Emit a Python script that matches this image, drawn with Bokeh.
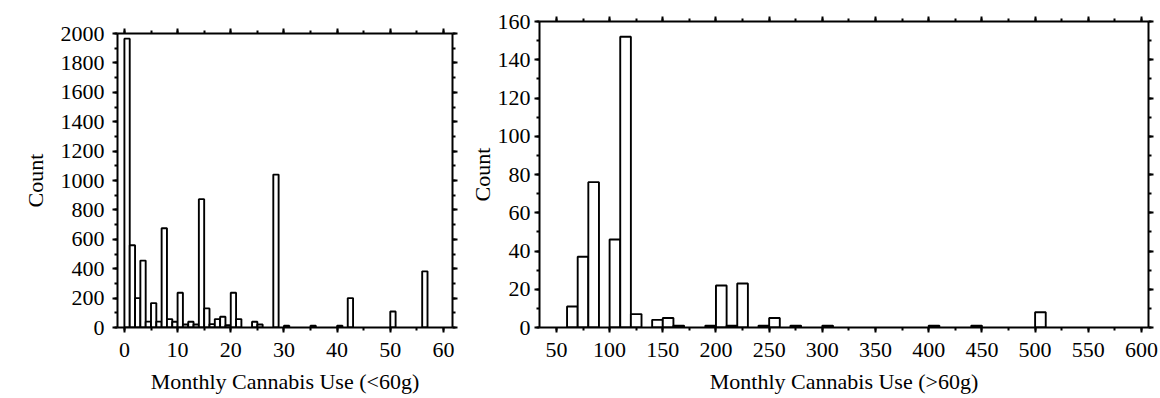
from jinja2 import Template
from bokeh.plotting import figure
from bokeh.models import Range1d, LinearAxis, SingleIntervalTicker, CustomJSTickFormatter
from bokeh.embed import file_html
from bokeh.resources import INLINE

# ---- data ----
left_bin_start = [0, 1, 2, 3, 4, 5, 6, 7, 8, 9, 10, 11, 12, 13, 14, 15, 16, 17, 18, 19,
                  20, 21, 24, 25, 28, 30, 35, 40, 42, 50, 56]
left_counts = [1965, 560, 200, 455, 40, 166, 40, 675, 57, 39, 236, 20, 39, 20, 873, 130, 23, 57, 73, 15,
               236, 57, 39, 20, 1040, 12, 12, 12, 200, 109, 382]
left_bin_width = 1

right_bin_start = [60, 70, 80, 100, 110, 120, 140, 150, 160, 190, 200, 210, 220, 240, 250, 270,
                   300, 400, 440, 500]
right_counts = [11, 37, 76, 46, 152, 7, 4, 5, 1, 1, 22, 1, 23, 1, 5, 1, 1, 1, 1, 8]
right_bin_width = 10

left_xlabel = "Monthly Cannabis Use (<60g)"
right_xlabel = "Monthly Cannabis Use (>60g)"
ylabel = "Count"

FONT = "Liberation Serif"
FS = "22px"


def style_axis(ax, major, minor_n, labels=True, standoff=8):
    ax.ticker = SingleIntervalTicker(interval=major, num_minor_ticks=minor_n)
    ax.axis_line_width = 2
    ax.axis_line_color = "black"
    ax.major_tick_line_width = 2
    ax.minor_tick_line_width = 2
    ax.major_tick_in = 0
    ax.major_tick_out = 5
    ax.minor_tick_in = 0
    ax.minor_tick_out = 3
    ax.major_label_text_font = FONT
    ax.major_label_text_color = "black"
    ax.axis_label_text_font = FONT
    ax.axis_label_text_font_style = "normal"
    ax.axis_label_text_font_size = FS
    ax.axis_label_text_color = "black"
    if labels:
        ax.major_label_text_font_size = FS
        ax.major_label_standoff = standoff
    else:
        ax.formatter = CustomJSTickFormatter(code="return ''")
        ax.major_label_text_font_size = "1px"
        ax.major_label_standoff = 0


def make(width, height, frame_l, frame_r, frame_t, frame_b, xr, yr, xmaj, ymaj,
         starts, counts, bw, xlabel, ystand, ylab_stand):
    p = figure(width=width, height=height, output_backend="svg", toolbar_location=None,
               x_range=Range1d(*xr), y_range=Range1d(*yr),
               min_border_left=frame_l, min_border_right=width - frame_r,
               min_border_top=frame_t, min_border_bottom=height - frame_b,
               x_axis_location="below", y_axis_location="left",
               title_location=None)
    p.grid.visible = False
    p.outline_line_color = None
    p.background_fill_color = "white"
    p.border_fill_color = "white"
    rights = [s + bw for s in starts]
    p.quad(left=starts, right=rights, bottom=0, top=counts,
           fill_color="white", line_color="black", line_width=1.9)
    style_axis(p.xaxis[0], xmaj, 2, standoff=10)
    style_axis(p.yaxis[0], ymaj, 2, standoff=ystand)
    p.xaxis[0].axis_label = xlabel
    p.yaxis[0].axis_label = ylabel
    p.xaxis[0].axis_label_standoff = 9
    p.yaxis[0].axis_label_standoff = ylab_stand
    top = LinearAxis()
    style_axis(top, xmaj, 2, labels=False)
    p.add_layout(top, "above")
    rt = LinearAxis()
    style_axis(rt, ymaj, 2, labels=False)
    p.add_layout(rt, "right")
    return p


W1 = 466
H = 398
p1 = make(W1, H, 117, 452, 33, 327, (-1.3, 61.7), (0, 2000), 10, 200,
          left_bin_start, left_counts, left_bin_width, left_xlabel, 8, 10)
p2 = make(1160 - W1, H, 537 - W1, 1148 - W1, 21, 327, (34.1, 606.6), (0, 160), 50, 20,
          right_bin_start, right_counts, right_bin_width, right_xlabel, 4, 0)

page = Template("""<!DOCTYPE html>
<html lang="en">
<head>
<meta charset="utf-8">
<title>{{ title }}</title>
{{ bokeh_css }}
{{ bokeh_js }}
<style>html, body { margin: 0; padding: 0; } body { display: flex; flex-direction: row; align-items: flex-start; }</style>
</head>
<body>
{{ plot_div }}
{{ plot_script }}
</body>
</html>
""")

open("out.html", "w").write(file_html([p1, p2], INLINE, template=page))
